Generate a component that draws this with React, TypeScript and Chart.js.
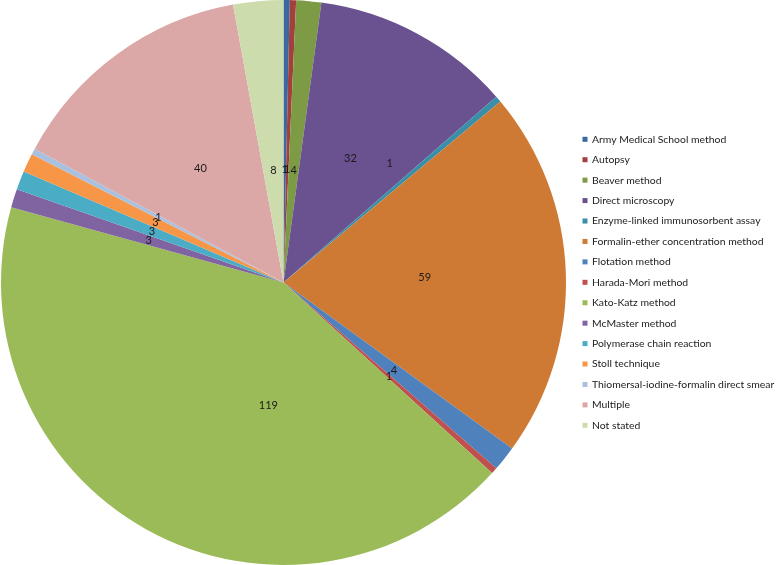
import React, { useEffect, useRef } from "react";
import { Chart, registerables } from "chart.js";

Chart.register(...registerables);

const categories: string[] = [
  "Army Medical School method",
  "Autopsy",
  "Beaver method",
  "Direct microscopy",
  "Enzyme-linked immunosorbent assay",
  "Formalin-ether concentration method",
  "Flotation method",
  "Harada-Mori method",
  "Kato-Katz method",
  "McMaster method",
  "Polymerase chain reaction",
  "Stoll technique",
  "Thiomersal-iodine-formalin direct smear",
  "Multiple",
  "Not stated",
];

const counts: number[] = [1, 1, 4, 32, 1, 59, 4, 1, 119, 3, 3, 3, 1, 40, 8];

const sliceColors: string[] = [
  "#3B68A0",
  "#A2403D",
  "#7D9B45",
  "#6A5290",
  "#3A8FA8",
  "#CF7A34",
  "#4F81BD",
  "#C0504D",
  "#9BBB59",
  "#8064A2",
  "#4BACC6",
  "#F79646",
  "#A9C0DF",
  "#DCA8A7",
  "#CCDCAC",
];

// label placement: default radial fraction, with a few best-fit adjustments
const LABEL_R = 0.5;
const LABEL_TWEAKS: Record<number, { deg?: number; r: number }> = {
  0: { r: 0.4 },
  1: { r: 0.4 },
  2: { r: 0.4 },
  4: { deg: 41.7, r: 0.565 },
  8: { deg: 187, r: 0.44 },
  14: { r: 0.4 },
};

const FONT = "Lato, 'Open Sans', sans-serif";

const labelPlugin = {
  id: "sliceLabels",
  afterDatasetsDraw(chart: any) {
    const ctx = chart.ctx;
    const meta = chart.getDatasetMeta(0);
    ctx.save();
    ctx.font = `11px ${FONT}`;
    ctx.fillStyle = "#1a1a1a";
    ctx.textAlign = "center";
    ctx.textBaseline = "middle";
    meta.data.forEach((arc: any, i: number) => {
      const p = arc.getProps(["x", "y", "startAngle", "endAngle", "outerRadius"], true);
      const tw = LABEL_TWEAKS[i];
      let a = (p.startAngle + p.endAngle) / 2;
      let f = LABEL_R;
      if (tw) {
        if (tw.deg !== undefined) a = (tw.deg * Math.PI) / 180 - Math.PI / 2;
        f = tw.r;
      }
      const x = p.x + Math.cos(a) * p.outerRadius * f;
      const y = p.y + Math.sin(a) * p.outerRadius * f;
      ctx.fillText(String(chart.data.datasets[0].data[i]), x, y);
    });
    ctx.restore();
  },
};

const legendPlugin = {
  id: "sideLegend",
  afterDraw(chart: any) {
    const ctx = chart.ctx;
    const x0 = 582.5;
    const y0 = 139.3;
    const step = 20.43;
    ctx.save();
    ctx.font = `10.4px ${FONT}`;
    ctx.textAlign = "left";
    ctx.textBaseline = "middle";
    chart.data.labels.forEach((lab: string, i: number) => {
      const y = y0 + i * step;
      ctx.fillStyle = chart.data.datasets[0].backgroundColor[i];
      ctx.fillRect(x0, y - 2.5, 5, 5);
      ctx.fillStyle = "#222";
      ctx.fillText(lab, x0 + 9.5, y);
    });
    ctx.restore();
  },
};

export default function App() {
  const ref = useRef<HTMLCanvasElement | null>(null);
  useEffect(() => {
    if (!ref.current) return;
    const chart = new Chart(ref.current, {
      type: "pie",
      data: {
        labels: categories,
        datasets: [
          {
            data: counts,
            backgroundColor: sliceColors,
            borderWidth: 0,
          },
        ],
      },
      options: {
        animation: false,
        responsive: false,
        layout: { padding: { left: 0, top: 0, bottom: 0, right: 211 } },
        plugins: {
          legend: { display: false },
          tooltip: { enabled: false },
        },
      },
      plugins: [labelPlugin, legendPlugin],
    });
    return () => chart.destroy();
  }, []);
  return (
    <div style={{ position: "absolute", left: 0, top: 0, width: 778, height: 565, background: "#fff" }}>
      <canvas ref={ref} width={778} height={565} />
    </div>
  );
}
